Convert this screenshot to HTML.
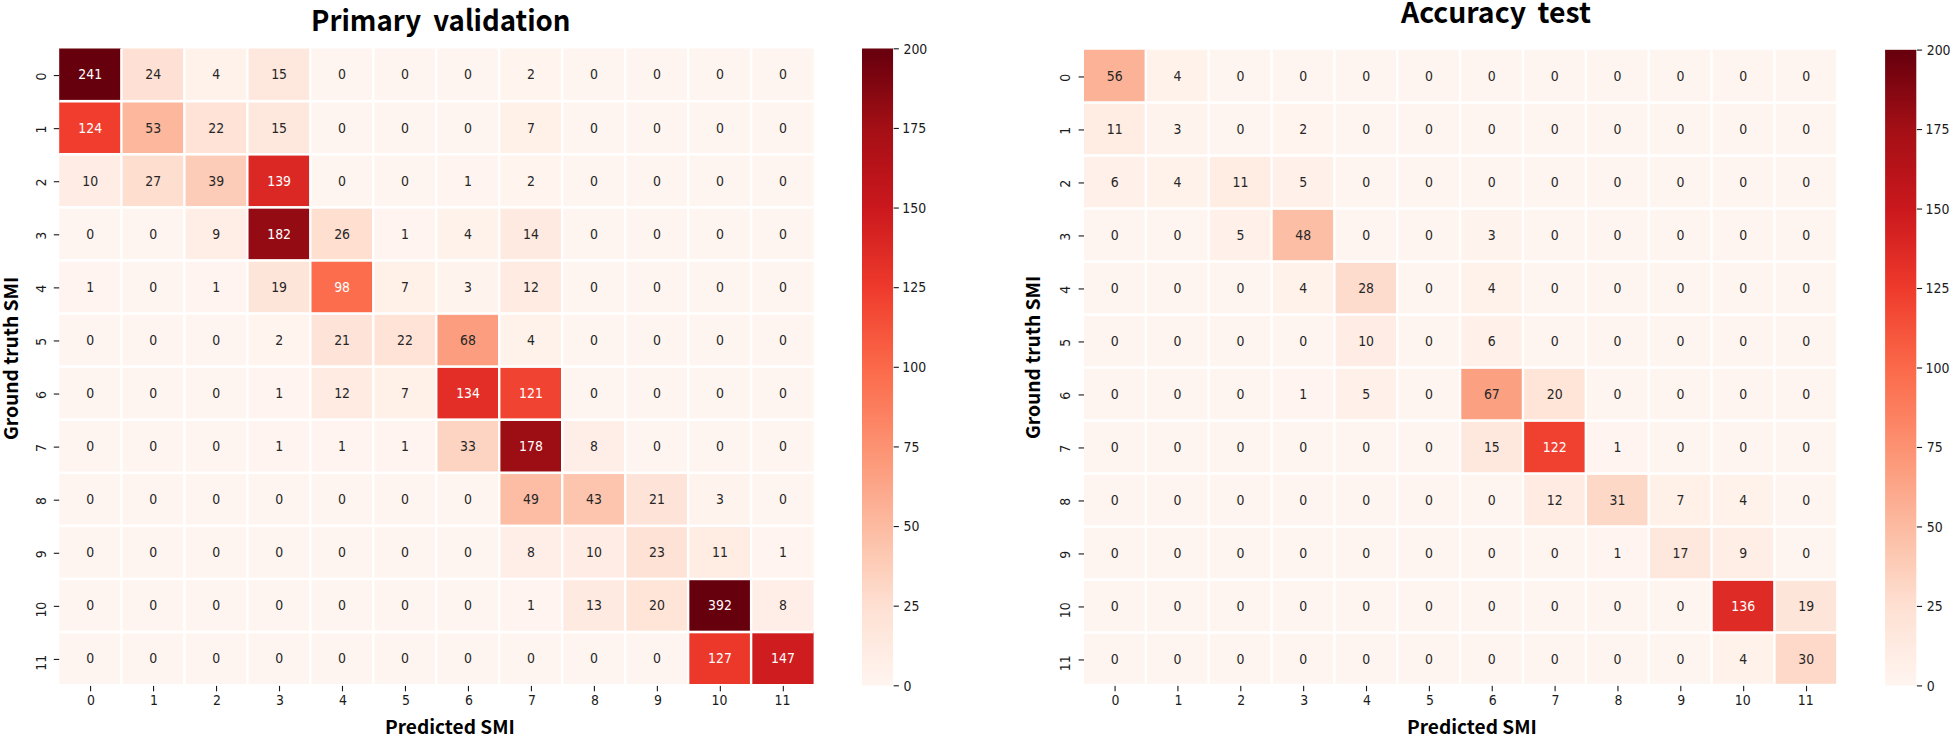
<!DOCTYPE html>
<html lang="en"><head><meta charset="utf-8"><title>Confusion matrices</title>
<style>
html,body{margin:0;padding:0;background:#fff;}
body{width:1953px;height:738px;position:relative;overflow:hidden;}
svg{position:absolute;left:0;top:0;display:block;}
.lbl{position:absolute;white-space:nowrap;color:#000;font-family:"Noto Sans CJK KR","Liberation Sans",sans-serif;font-weight:700;line-height:1;transform-origin:0 0;}

#t1{left:310.5px;top:4.8px;font-size:28.8px;transform:scaleX(0.959);word-spacing:6.2px;}
#t2{left:1401px;top:-2.6px;font-size:28.6px;transform:scaleX(0.993);word-spacing:5.2px;}
#x1{left:384.6px;top:717.1px;font-size:18.2px;transform:scaleX(1.05);}
#x2{left:1407px;top:717.1px;font-size:18.2px;transform:scaleX(1.05);}
#y1{left:0px;top:439.6px;font-size:19px;transform:rotate(-90deg) scaleX(1.01);}
#y2{left:1022.3px;top:439.3px;font-size:19px;transform:rotate(-90deg) scaleX(1.01);}

</style></head><body>
<svg width="1953" height="738" viewBox="0 0 1953 738" font-family="'DejaVu Sans', 'Liberation Sans', sans-serif">
<defs><linearGradient id="g1" x1="0" y1="0" x2="0" y2="1"><stop offset="0" stop-color="#67000d"/><stop offset="0.0156" stop-color="#6d010e"/><stop offset="0.0312" stop-color="#75030f"/><stop offset="0.0469" stop-color="#7c0510"/><stop offset="0.0625" stop-color="#840711"/><stop offset="0.0781" stop-color="#8c0912"/><stop offset="0.0938" stop-color="#940b13"/><stop offset="0.1094" stop-color="#9c0d14"/><stop offset="0.125" stop-color="#a30f15"/><stop offset="0.1406" stop-color="#a91016"/><stop offset="0.1562" stop-color="#ad1117"/><stop offset="0.1719" stop-color="#b21218"/><stop offset="0.1875" stop-color="#b71319"/><stop offset="0.2031" stop-color="#bc141a"/><stop offset="0.2188" stop-color="#c1161b"/><stop offset="0.2344" stop-color="#c5171c"/><stop offset="0.25" stop-color="#ca181d"/><stop offset="0.2656" stop-color="#cf1c1f"/><stop offset="0.2812" stop-color="#d32020"/><stop offset="0.2969" stop-color="#d82422"/><stop offset="0.3125" stop-color="#dc2924"/><stop offset="0.3281" stop-color="#e12d26"/><stop offset="0.3438" stop-color="#e53228"/><stop offset="0.3594" stop-color="#ea362a"/><stop offset="0.375" stop-color="#ee3a2c"/><stop offset="0.3906" stop-color="#f0402f"/><stop offset="0.4062" stop-color="#f24633"/><stop offset="0.4219" stop-color="#f34c37"/><stop offset="0.4375" stop-color="#f5523a"/><stop offset="0.4531" stop-color="#f6583e"/><stop offset="0.4688" stop-color="#f85d42"/><stop offset="0.4844" stop-color="#f96346"/><stop offset="0.5" stop-color="#fb694a"/><stop offset="0.5156" stop-color="#fb6e4e"/><stop offset="0.5312" stop-color="#fb7353"/><stop offset="0.5469" stop-color="#fb7858"/><stop offset="0.5625" stop-color="#fb7d5d"/><stop offset="0.5781" stop-color="#fc8262"/><stop offset="0.5938" stop-color="#fc8767"/><stop offset="0.6094" stop-color="#fc8d6d"/><stop offset="0.625" stop-color="#fc9272"/><stop offset="0.6406" stop-color="#fc9777"/><stop offset="0.6562" stop-color="#fc9c7d"/><stop offset="0.6719" stop-color="#fca183"/><stop offset="0.6875" stop-color="#fca689"/><stop offset="0.7031" stop-color="#fcab8f"/><stop offset="0.7188" stop-color="#fcb095"/><stop offset="0.7344" stop-color="#fcb69b"/><stop offset="0.75" stop-color="#fcbba1"/><stop offset="0.7656" stop-color="#fcbfa7"/><stop offset="0.7812" stop-color="#fcc4ad"/><stop offset="0.7969" stop-color="#fdc9b3"/><stop offset="0.8125" stop-color="#fdcdb9"/><stop offset="0.8281" stop-color="#fdd2bf"/><stop offset="0.8438" stop-color="#fdd7c6"/><stop offset="0.8594" stop-color="#fedbcc"/><stop offset="0.875" stop-color="#fee0d2"/><stop offset="0.8906" stop-color="#fee3d6"/><stop offset="0.9062" stop-color="#fee5d9"/><stop offset="0.9219" stop-color="#fee8dd"/><stop offset="0.9375" stop-color="#feeae1"/><stop offset="0.9531" stop-color="#ffede5"/><stop offset="0.9688" stop-color="#fff0e8"/><stop offset="0.9844" stop-color="#fff2ec"/><stop offset="1" stop-color="#fff5f0"/></linearGradient></defs>
<clipPath id="c1"><rect x="59.2" y="48.5" width="754.4" height="635.4"/></clipPath>
<g clip-path="url(#c1)">
<g class="cells">
<rect x="57.9" y="47.62" width="63.98" height="54.08" fill="#67000d"/>
<rect x="120.88" y="47.62" width="63.98" height="54.08" fill="#fee1d4"/>
<rect x="183.85" y="47.62" width="63.98" height="54.08" fill="#fff2eb"/>
<rect x="246.83" y="47.62" width="63.98" height="54.08" fill="#fee8de"/>
<rect x="309.8" y="47.62" width="63.98" height="54.08" fill="#fff5f0"/>
<rect x="372.77" y="47.62" width="63.98" height="54.08" fill="#fff5f0"/>
<rect x="435.75" y="47.62" width="63.98" height="54.08" fill="#fff5f0"/>
<rect x="498.72" y="47.62" width="63.98" height="54.08" fill="#fff4ee"/>
<rect x="561.7" y="47.62" width="63.98" height="54.08" fill="#fff5f0"/>
<rect x="624.67" y="47.62" width="63.98" height="54.08" fill="#fff5f0"/>
<rect x="687.65" y="47.62" width="63.98" height="54.08" fill="#fff5f0"/>
<rect x="750.62" y="47.62" width="63.98" height="54.08" fill="#fff5f0"/>
<rect x="57.9" y="100.7" width="63.98" height="54.08" fill="#f03d2d"/>
<rect x="120.88" y="100.7" width="63.98" height="54.08" fill="#fcb79c"/>
<rect x="183.85" y="100.7" width="63.98" height="54.08" fill="#fee3d6"/>
<rect x="246.83" y="100.7" width="63.98" height="54.08" fill="#fee8de"/>
<rect x="309.8" y="100.7" width="63.98" height="54.08" fill="#fff5f0"/>
<rect x="372.77" y="100.7" width="63.98" height="54.08" fill="#fff5f0"/>
<rect x="435.75" y="100.7" width="63.98" height="54.08" fill="#fff5f0"/>
<rect x="498.72" y="100.7" width="63.98" height="54.08" fill="#fff0e8"/>
<rect x="561.7" y="100.7" width="63.98" height="54.08" fill="#fff5f0"/>
<rect x="624.67" y="100.7" width="63.98" height="54.08" fill="#fff5f0"/>
<rect x="687.65" y="100.7" width="63.98" height="54.08" fill="#fff5f0"/>
<rect x="750.62" y="100.7" width="63.98" height="54.08" fill="#fff5f0"/>
<rect x="57.9" y="153.78" width="63.98" height="54.08" fill="#ffede5"/>
<rect x="120.88" y="153.78" width="63.98" height="54.08" fill="#fedecf"/>
<rect x="183.85" y="153.78" width="63.98" height="54.08" fill="#fdccb8"/>
<rect x="246.83" y="153.78" width="63.98" height="54.08" fill="#db2824"/>
<rect x="309.8" y="153.78" width="63.98" height="54.08" fill="#fff5f0"/>
<rect x="372.77" y="153.78" width="63.98" height="54.08" fill="#fff5f0"/>
<rect x="435.75" y="153.78" width="63.98" height="54.08" fill="#fff4ef"/>
<rect x="498.72" y="153.78" width="63.98" height="54.08" fill="#fff4ee"/>
<rect x="561.7" y="153.78" width="63.98" height="54.08" fill="#fff5f0"/>
<rect x="624.67" y="153.78" width="63.98" height="54.08" fill="#fff5f0"/>
<rect x="687.65" y="153.78" width="63.98" height="54.08" fill="#fff5f0"/>
<rect x="750.62" y="153.78" width="63.98" height="54.08" fill="#fff5f0"/>
<rect x="57.9" y="206.86" width="63.98" height="54.08" fill="#fff5f0"/>
<rect x="120.88" y="206.86" width="63.98" height="54.08" fill="#fff5f0"/>
<rect x="183.85" y="206.86" width="63.98" height="54.08" fill="#ffeee6"/>
<rect x="246.83" y="206.86" width="63.98" height="54.08" fill="#940b13"/>
<rect x="309.8" y="206.86" width="63.98" height="54.08" fill="#fedfd0"/>
<rect x="372.77" y="206.86" width="63.98" height="54.08" fill="#fff4ef"/>
<rect x="435.75" y="206.86" width="63.98" height="54.08" fill="#fff2eb"/>
<rect x="498.72" y="206.86" width="63.98" height="54.08" fill="#feeae0"/>
<rect x="561.7" y="206.86" width="63.98" height="54.08" fill="#fff5f0"/>
<rect x="624.67" y="206.86" width="63.98" height="54.08" fill="#fff5f0"/>
<rect x="687.65" y="206.86" width="63.98" height="54.08" fill="#fff5f0"/>
<rect x="750.62" y="206.86" width="63.98" height="54.08" fill="#fff5f0"/>
<rect x="57.9" y="259.94" width="63.98" height="54.08" fill="#fff4ef"/>
<rect x="120.88" y="259.94" width="63.98" height="54.08" fill="#fff5f0"/>
<rect x="183.85" y="259.94" width="63.98" height="54.08" fill="#fff4ef"/>
<rect x="246.83" y="259.94" width="63.98" height="54.08" fill="#fee5d9"/>
<rect x="309.8" y="259.94" width="63.98" height="54.08" fill="#fb6d4d"/>
<rect x="372.77" y="259.94" width="63.98" height="54.08" fill="#fff0e8"/>
<rect x="435.75" y="259.94" width="63.98" height="54.08" fill="#fff3ed"/>
<rect x="498.72" y="259.94" width="63.98" height="54.08" fill="#ffebe2"/>
<rect x="561.7" y="259.94" width="63.98" height="54.08" fill="#fff5f0"/>
<rect x="624.67" y="259.94" width="63.98" height="54.08" fill="#fff5f0"/>
<rect x="687.65" y="259.94" width="63.98" height="54.08" fill="#fff5f0"/>
<rect x="750.62" y="259.94" width="63.98" height="54.08" fill="#fff5f0"/>
<rect x="57.9" y="313.02" width="63.98" height="54.08" fill="#fff5f0"/>
<rect x="120.88" y="313.02" width="63.98" height="54.08" fill="#fff5f0"/>
<rect x="183.85" y="313.02" width="63.98" height="54.08" fill="#fff5f0"/>
<rect x="246.83" y="313.02" width="63.98" height="54.08" fill="#fff4ee"/>
<rect x="309.8" y="313.02" width="63.98" height="54.08" fill="#fee4d8"/>
<rect x="372.77" y="313.02" width="63.98" height="54.08" fill="#fee3d6"/>
<rect x="435.75" y="313.02" width="63.98" height="54.08" fill="#fc9d7f"/>
<rect x="498.72" y="313.02" width="63.98" height="54.08" fill="#fff2eb"/>
<rect x="561.7" y="313.02" width="63.98" height="54.08" fill="#fff5f0"/>
<rect x="624.67" y="313.02" width="63.98" height="54.08" fill="#fff5f0"/>
<rect x="687.65" y="313.02" width="63.98" height="54.08" fill="#fff5f0"/>
<rect x="750.62" y="313.02" width="63.98" height="54.08" fill="#fff5f0"/>
<rect x="57.9" y="366.1" width="63.98" height="54.08" fill="#fff5f0"/>
<rect x="120.88" y="366.1" width="63.98" height="54.08" fill="#fff5f0"/>
<rect x="183.85" y="366.1" width="63.98" height="54.08" fill="#fff5f0"/>
<rect x="246.83" y="366.1" width="63.98" height="54.08" fill="#fff4ef"/>
<rect x="309.8" y="366.1" width="63.98" height="54.08" fill="#ffebe2"/>
<rect x="372.77" y="366.1" width="63.98" height="54.08" fill="#fff0e8"/>
<rect x="435.75" y="366.1" width="63.98" height="54.08" fill="#e22e27"/>
<rect x="498.72" y="366.1" width="63.98" height="54.08" fill="#f14331"/>
<rect x="561.7" y="366.1" width="63.98" height="54.08" fill="#fff5f0"/>
<rect x="624.67" y="366.1" width="63.98" height="54.08" fill="#fff5f0"/>
<rect x="687.65" y="366.1" width="63.98" height="54.08" fill="#fff5f0"/>
<rect x="750.62" y="366.1" width="63.98" height="54.08" fill="#fff5f0"/>
<rect x="57.9" y="419.18" width="63.98" height="54.08" fill="#fff5f0"/>
<rect x="120.88" y="419.18" width="63.98" height="54.08" fill="#fff5f0"/>
<rect x="183.85" y="419.18" width="63.98" height="54.08" fill="#fff5f0"/>
<rect x="246.83" y="419.18" width="63.98" height="54.08" fill="#fff4ef"/>
<rect x="309.8" y="419.18" width="63.98" height="54.08" fill="#fff4ef"/>
<rect x="372.77" y="419.18" width="63.98" height="54.08" fill="#fff4ef"/>
<rect x="435.75" y="419.18" width="63.98" height="54.08" fill="#fdd4c2"/>
<rect x="498.72" y="419.18" width="63.98" height="54.08" fill="#9d0d14"/>
<rect x="561.7" y="419.18" width="63.98" height="54.08" fill="#ffeee7"/>
<rect x="624.67" y="419.18" width="63.98" height="54.08" fill="#fff5f0"/>
<rect x="687.65" y="419.18" width="63.98" height="54.08" fill="#fff5f0"/>
<rect x="750.62" y="419.18" width="63.98" height="54.08" fill="#fff5f0"/>
<rect x="57.9" y="472.26" width="63.98" height="54.08" fill="#fff5f0"/>
<rect x="120.88" y="472.26" width="63.98" height="54.08" fill="#fff5f0"/>
<rect x="183.85" y="472.26" width="63.98" height="54.08" fill="#fff5f0"/>
<rect x="246.83" y="472.26" width="63.98" height="54.08" fill="#fff5f0"/>
<rect x="309.8" y="472.26" width="63.98" height="54.08" fill="#fff5f0"/>
<rect x="372.77" y="472.26" width="63.98" height="54.08" fill="#fff5f0"/>
<rect x="435.75" y="472.26" width="63.98" height="54.08" fill="#fff5f0"/>
<rect x="498.72" y="472.26" width="63.98" height="54.08" fill="#fcbda4"/>
<rect x="561.7" y="472.26" width="63.98" height="54.08" fill="#fdc5ae"/>
<rect x="624.67" y="472.26" width="63.98" height="54.08" fill="#fee4d8"/>
<rect x="687.65" y="472.26" width="63.98" height="54.08" fill="#fff3ed"/>
<rect x="750.62" y="472.26" width="63.98" height="54.08" fill="#fff5f0"/>
<rect x="57.9" y="525.34" width="63.98" height="54.08" fill="#fff5f0"/>
<rect x="120.88" y="525.34" width="63.98" height="54.08" fill="#fff5f0"/>
<rect x="183.85" y="525.34" width="63.98" height="54.08" fill="#fff5f0"/>
<rect x="246.83" y="525.34" width="63.98" height="54.08" fill="#fff5f0"/>
<rect x="309.8" y="525.34" width="63.98" height="54.08" fill="#fff5f0"/>
<rect x="372.77" y="525.34" width="63.98" height="54.08" fill="#fff5f0"/>
<rect x="435.75" y="525.34" width="63.98" height="54.08" fill="#fff5f0"/>
<rect x="498.72" y="525.34" width="63.98" height="54.08" fill="#ffeee7"/>
<rect x="561.7" y="525.34" width="63.98" height="54.08" fill="#ffede5"/>
<rect x="624.67" y="525.34" width="63.98" height="54.08" fill="#fee2d5"/>
<rect x="687.65" y="525.34" width="63.98" height="54.08" fill="#ffece3"/>
<rect x="750.62" y="525.34" width="63.98" height="54.08" fill="#fff4ef"/>
<rect x="57.9" y="578.42" width="63.98" height="54.08" fill="#fff5f0"/>
<rect x="120.88" y="578.42" width="63.98" height="54.08" fill="#fff5f0"/>
<rect x="183.85" y="578.42" width="63.98" height="54.08" fill="#fff5f0"/>
<rect x="246.83" y="578.42" width="63.98" height="54.08" fill="#fff5f0"/>
<rect x="309.8" y="578.42" width="63.98" height="54.08" fill="#fff5f0"/>
<rect x="372.77" y="578.42" width="63.98" height="54.08" fill="#fff5f0"/>
<rect x="435.75" y="578.42" width="63.98" height="54.08" fill="#fff5f0"/>
<rect x="498.72" y="578.42" width="63.98" height="54.08" fill="#fff4ef"/>
<rect x="561.7" y="578.42" width="63.98" height="54.08" fill="#feeae1"/>
<rect x="624.67" y="578.42" width="63.98" height="54.08" fill="#fee5d8"/>
<rect x="687.65" y="578.42" width="63.98" height="54.08" fill="#67000d"/>
<rect x="750.62" y="578.42" width="63.98" height="54.08" fill="#ffeee7"/>
<rect x="57.9" y="631.5" width="63.98" height="54.08" fill="#fff5f0"/>
<rect x="120.88" y="631.5" width="63.98" height="54.08" fill="#fff5f0"/>
<rect x="183.85" y="631.5" width="63.98" height="54.08" fill="#fff5f0"/>
<rect x="246.83" y="631.5" width="63.98" height="54.08" fill="#fff5f0"/>
<rect x="309.8" y="631.5" width="63.98" height="54.08" fill="#fff5f0"/>
<rect x="372.77" y="631.5" width="63.98" height="54.08" fill="#fff5f0"/>
<rect x="435.75" y="631.5" width="63.98" height="54.08" fill="#fff5f0"/>
<rect x="498.72" y="631.5" width="63.98" height="54.08" fill="#fff5f0"/>
<rect x="561.7" y="631.5" width="63.98" height="54.08" fill="#fff5f0"/>
<rect x="624.67" y="631.5" width="63.98" height="54.08" fill="#fff5f0"/>
<rect x="687.65" y="631.5" width="63.98" height="54.08" fill="#ec382b"/>
<rect x="750.62" y="631.5" width="63.98" height="54.08" fill="#cf1c1f"/>
</g>
<g fill="#fff">
<rect x="120.17" y="45.12" width="2.4" height="642.96"/>
<rect x="183.15" y="45.12" width="2.4" height="642.96"/>
<rect x="246.13" y="45.12" width="2.4" height="642.96"/>
<rect x="309.1" y="45.12" width="2.4" height="642.96"/>
<rect x="372.07" y="45.12" width="2.4" height="642.96"/>
<rect x="435.05" y="45.12" width="2.4" height="642.96"/>
<rect x="498.02" y="45.12" width="2.4" height="642.96"/>
<rect x="561" y="45.12" width="2.4" height="642.96"/>
<rect x="623.97" y="45.12" width="2.4" height="642.96"/>
<rect x="686.95" y="45.12" width="2.4" height="642.96"/>
<rect x="749.92" y="45.12" width="2.4" height="642.96"/>
<rect x="55.4" y="99.9" width="761.7" height="2.6"/>
<rect x="55.4" y="152.98" width="761.7" height="2.6"/>
<rect x="55.4" y="206.06" width="761.7" height="2.6"/>
<rect x="55.4" y="259.14" width="761.7" height="2.6"/>
<rect x="55.4" y="312.22" width="761.7" height="2.6"/>
<rect x="55.4" y="365.3" width="761.7" height="2.6"/>
<rect x="55.4" y="418.38" width="761.7" height="2.6"/>
<rect x="55.4" y="471.46" width="761.7" height="2.6"/>
<rect x="55.4" y="524.54" width="761.7" height="2.6"/>
<rect x="55.4" y="577.62" width="761.7" height="2.6"/>
<rect x="55.4" y="630.7" width="761.7" height="2.6"/>
</g></g>
<g class="ann">
<text transform="translate(90.19 79.46) scale(0.88 1)" text-anchor="middle" fill="#ffffff" font-size="14.2">241</text>
<text transform="translate(153.16 79.46) scale(0.88 1)" text-anchor="middle" fill="#262626" font-size="14.2">24</text>
<text transform="translate(216.14 79.46) scale(0.88 1)" text-anchor="middle" fill="#262626" font-size="14.2">4</text>
<text transform="translate(279.11 79.46) scale(0.88 1)" text-anchor="middle" fill="#262626" font-size="14.2">15</text>
<text transform="translate(342.09 79.46) scale(0.88 1)" text-anchor="middle" fill="#262626" font-size="14.2">0</text>
<text transform="translate(405.06 79.46) scale(0.88 1)" text-anchor="middle" fill="#262626" font-size="14.2">0</text>
<text transform="translate(468.04 79.46) scale(0.88 1)" text-anchor="middle" fill="#262626" font-size="14.2">0</text>
<text transform="translate(531.01 79.46) scale(0.88 1)" text-anchor="middle" fill="#262626" font-size="14.2">2</text>
<text transform="translate(593.99 79.46) scale(0.88 1)" text-anchor="middle" fill="#262626" font-size="14.2">0</text>
<text transform="translate(656.96 79.46) scale(0.88 1)" text-anchor="middle" fill="#262626" font-size="14.2">0</text>
<text transform="translate(719.94 79.46) scale(0.88 1)" text-anchor="middle" fill="#262626" font-size="14.2">0</text>
<text transform="translate(782.91 79.46) scale(0.88 1)" text-anchor="middle" fill="#262626" font-size="14.2">0</text>
<text transform="translate(90.19 132.54) scale(0.88 1)" text-anchor="middle" fill="#ffffff" font-size="14.2">124</text>
<text transform="translate(153.16 132.54) scale(0.88 1)" text-anchor="middle" fill="#262626" font-size="14.2">53</text>
<text transform="translate(216.14 132.54) scale(0.88 1)" text-anchor="middle" fill="#262626" font-size="14.2">22</text>
<text transform="translate(279.11 132.54) scale(0.88 1)" text-anchor="middle" fill="#262626" font-size="14.2">15</text>
<text transform="translate(342.09 132.54) scale(0.88 1)" text-anchor="middle" fill="#262626" font-size="14.2">0</text>
<text transform="translate(405.06 132.54) scale(0.88 1)" text-anchor="middle" fill="#262626" font-size="14.2">0</text>
<text transform="translate(468.04 132.54) scale(0.88 1)" text-anchor="middle" fill="#262626" font-size="14.2">0</text>
<text transform="translate(531.01 132.54) scale(0.88 1)" text-anchor="middle" fill="#262626" font-size="14.2">7</text>
<text transform="translate(593.99 132.54) scale(0.88 1)" text-anchor="middle" fill="#262626" font-size="14.2">0</text>
<text transform="translate(656.96 132.54) scale(0.88 1)" text-anchor="middle" fill="#262626" font-size="14.2">0</text>
<text transform="translate(719.94 132.54) scale(0.88 1)" text-anchor="middle" fill="#262626" font-size="14.2">0</text>
<text transform="translate(782.91 132.54) scale(0.88 1)" text-anchor="middle" fill="#262626" font-size="14.2">0</text>
<text transform="translate(90.19 185.62) scale(0.88 1)" text-anchor="middle" fill="#262626" font-size="14.2">10</text>
<text transform="translate(153.16 185.62) scale(0.88 1)" text-anchor="middle" fill="#262626" font-size="14.2">27</text>
<text transform="translate(216.14 185.62) scale(0.88 1)" text-anchor="middle" fill="#262626" font-size="14.2">39</text>
<text transform="translate(279.11 185.62) scale(0.88 1)" text-anchor="middle" fill="#ffffff" font-size="14.2">139</text>
<text transform="translate(342.09 185.62) scale(0.88 1)" text-anchor="middle" fill="#262626" font-size="14.2">0</text>
<text transform="translate(405.06 185.62) scale(0.88 1)" text-anchor="middle" fill="#262626" font-size="14.2">0</text>
<text transform="translate(468.04 185.62) scale(0.88 1)" text-anchor="middle" fill="#262626" font-size="14.2">1</text>
<text transform="translate(531.01 185.62) scale(0.88 1)" text-anchor="middle" fill="#262626" font-size="14.2">2</text>
<text transform="translate(593.99 185.62) scale(0.88 1)" text-anchor="middle" fill="#262626" font-size="14.2">0</text>
<text transform="translate(656.96 185.62) scale(0.88 1)" text-anchor="middle" fill="#262626" font-size="14.2">0</text>
<text transform="translate(719.94 185.62) scale(0.88 1)" text-anchor="middle" fill="#262626" font-size="14.2">0</text>
<text transform="translate(782.91 185.62) scale(0.88 1)" text-anchor="middle" fill="#262626" font-size="14.2">0</text>
<text transform="translate(90.19 238.7) scale(0.88 1)" text-anchor="middle" fill="#262626" font-size="14.2">0</text>
<text transform="translate(153.16 238.7) scale(0.88 1)" text-anchor="middle" fill="#262626" font-size="14.2">0</text>
<text transform="translate(216.14 238.7) scale(0.88 1)" text-anchor="middle" fill="#262626" font-size="14.2">9</text>
<text transform="translate(279.11 238.7) scale(0.88 1)" text-anchor="middle" fill="#ffffff" font-size="14.2">182</text>
<text transform="translate(342.09 238.7) scale(0.88 1)" text-anchor="middle" fill="#262626" font-size="14.2">26</text>
<text transform="translate(405.06 238.7) scale(0.88 1)" text-anchor="middle" fill="#262626" font-size="14.2">1</text>
<text transform="translate(468.04 238.7) scale(0.88 1)" text-anchor="middle" fill="#262626" font-size="14.2">4</text>
<text transform="translate(531.01 238.7) scale(0.88 1)" text-anchor="middle" fill="#262626" font-size="14.2">14</text>
<text transform="translate(593.99 238.7) scale(0.88 1)" text-anchor="middle" fill="#262626" font-size="14.2">0</text>
<text transform="translate(656.96 238.7) scale(0.88 1)" text-anchor="middle" fill="#262626" font-size="14.2">0</text>
<text transform="translate(719.94 238.7) scale(0.88 1)" text-anchor="middle" fill="#262626" font-size="14.2">0</text>
<text transform="translate(782.91 238.7) scale(0.88 1)" text-anchor="middle" fill="#262626" font-size="14.2">0</text>
<text transform="translate(90.19 291.78) scale(0.88 1)" text-anchor="middle" fill="#262626" font-size="14.2">1</text>
<text transform="translate(153.16 291.78) scale(0.88 1)" text-anchor="middle" fill="#262626" font-size="14.2">0</text>
<text transform="translate(216.14 291.78) scale(0.88 1)" text-anchor="middle" fill="#262626" font-size="14.2">1</text>
<text transform="translate(279.11 291.78) scale(0.88 1)" text-anchor="middle" fill="#262626" font-size="14.2">19</text>
<text transform="translate(342.09 291.78) scale(0.88 1)" text-anchor="middle" fill="#ffffff" font-size="14.2">98</text>
<text transform="translate(405.06 291.78) scale(0.88 1)" text-anchor="middle" fill="#262626" font-size="14.2">7</text>
<text transform="translate(468.04 291.78) scale(0.88 1)" text-anchor="middle" fill="#262626" font-size="14.2">3</text>
<text transform="translate(531.01 291.78) scale(0.88 1)" text-anchor="middle" fill="#262626" font-size="14.2">12</text>
<text transform="translate(593.99 291.78) scale(0.88 1)" text-anchor="middle" fill="#262626" font-size="14.2">0</text>
<text transform="translate(656.96 291.78) scale(0.88 1)" text-anchor="middle" fill="#262626" font-size="14.2">0</text>
<text transform="translate(719.94 291.78) scale(0.88 1)" text-anchor="middle" fill="#262626" font-size="14.2">0</text>
<text transform="translate(782.91 291.78) scale(0.88 1)" text-anchor="middle" fill="#262626" font-size="14.2">0</text>
<text transform="translate(90.19 344.86) scale(0.88 1)" text-anchor="middle" fill="#262626" font-size="14.2">0</text>
<text transform="translate(153.16 344.86) scale(0.88 1)" text-anchor="middle" fill="#262626" font-size="14.2">0</text>
<text transform="translate(216.14 344.86) scale(0.88 1)" text-anchor="middle" fill="#262626" font-size="14.2">0</text>
<text transform="translate(279.11 344.86) scale(0.88 1)" text-anchor="middle" fill="#262626" font-size="14.2">2</text>
<text transform="translate(342.09 344.86) scale(0.88 1)" text-anchor="middle" fill="#262626" font-size="14.2">21</text>
<text transform="translate(405.06 344.86) scale(0.88 1)" text-anchor="middle" fill="#262626" font-size="14.2">22</text>
<text transform="translate(468.04 344.86) scale(0.88 1)" text-anchor="middle" fill="#262626" font-size="14.2">68</text>
<text transform="translate(531.01 344.86) scale(0.88 1)" text-anchor="middle" fill="#262626" font-size="14.2">4</text>
<text transform="translate(593.99 344.86) scale(0.88 1)" text-anchor="middle" fill="#262626" font-size="14.2">0</text>
<text transform="translate(656.96 344.86) scale(0.88 1)" text-anchor="middle" fill="#262626" font-size="14.2">0</text>
<text transform="translate(719.94 344.86) scale(0.88 1)" text-anchor="middle" fill="#262626" font-size="14.2">0</text>
<text transform="translate(782.91 344.86) scale(0.88 1)" text-anchor="middle" fill="#262626" font-size="14.2">0</text>
<text transform="translate(90.19 397.94) scale(0.88 1)" text-anchor="middle" fill="#262626" font-size="14.2">0</text>
<text transform="translate(153.16 397.94) scale(0.88 1)" text-anchor="middle" fill="#262626" font-size="14.2">0</text>
<text transform="translate(216.14 397.94) scale(0.88 1)" text-anchor="middle" fill="#262626" font-size="14.2">0</text>
<text transform="translate(279.11 397.94) scale(0.88 1)" text-anchor="middle" fill="#262626" font-size="14.2">1</text>
<text transform="translate(342.09 397.94) scale(0.88 1)" text-anchor="middle" fill="#262626" font-size="14.2">12</text>
<text transform="translate(405.06 397.94) scale(0.88 1)" text-anchor="middle" fill="#262626" font-size="14.2">7</text>
<text transform="translate(468.04 397.94) scale(0.88 1)" text-anchor="middle" fill="#ffffff" font-size="14.2">134</text>
<text transform="translate(531.01 397.94) scale(0.88 1)" text-anchor="middle" fill="#ffffff" font-size="14.2">121</text>
<text transform="translate(593.99 397.94) scale(0.88 1)" text-anchor="middle" fill="#262626" font-size="14.2">0</text>
<text transform="translate(656.96 397.94) scale(0.88 1)" text-anchor="middle" fill="#262626" font-size="14.2">0</text>
<text transform="translate(719.94 397.94) scale(0.88 1)" text-anchor="middle" fill="#262626" font-size="14.2">0</text>
<text transform="translate(782.91 397.94) scale(0.88 1)" text-anchor="middle" fill="#262626" font-size="14.2">0</text>
<text transform="translate(90.19 451.02) scale(0.88 1)" text-anchor="middle" fill="#262626" font-size="14.2">0</text>
<text transform="translate(153.16 451.02) scale(0.88 1)" text-anchor="middle" fill="#262626" font-size="14.2">0</text>
<text transform="translate(216.14 451.02) scale(0.88 1)" text-anchor="middle" fill="#262626" font-size="14.2">0</text>
<text transform="translate(279.11 451.02) scale(0.88 1)" text-anchor="middle" fill="#262626" font-size="14.2">1</text>
<text transform="translate(342.09 451.02) scale(0.88 1)" text-anchor="middle" fill="#262626" font-size="14.2">1</text>
<text transform="translate(405.06 451.02) scale(0.88 1)" text-anchor="middle" fill="#262626" font-size="14.2">1</text>
<text transform="translate(468.04 451.02) scale(0.88 1)" text-anchor="middle" fill="#262626" font-size="14.2">33</text>
<text transform="translate(531.01 451.02) scale(0.88 1)" text-anchor="middle" fill="#ffffff" font-size="14.2">178</text>
<text transform="translate(593.99 451.02) scale(0.88 1)" text-anchor="middle" fill="#262626" font-size="14.2">8</text>
<text transform="translate(656.96 451.02) scale(0.88 1)" text-anchor="middle" fill="#262626" font-size="14.2">0</text>
<text transform="translate(719.94 451.02) scale(0.88 1)" text-anchor="middle" fill="#262626" font-size="14.2">0</text>
<text transform="translate(782.91 451.02) scale(0.88 1)" text-anchor="middle" fill="#262626" font-size="14.2">0</text>
<text transform="translate(90.19 504.1) scale(0.88 1)" text-anchor="middle" fill="#262626" font-size="14.2">0</text>
<text transform="translate(153.16 504.1) scale(0.88 1)" text-anchor="middle" fill="#262626" font-size="14.2">0</text>
<text transform="translate(216.14 504.1) scale(0.88 1)" text-anchor="middle" fill="#262626" font-size="14.2">0</text>
<text transform="translate(279.11 504.1) scale(0.88 1)" text-anchor="middle" fill="#262626" font-size="14.2">0</text>
<text transform="translate(342.09 504.1) scale(0.88 1)" text-anchor="middle" fill="#262626" font-size="14.2">0</text>
<text transform="translate(405.06 504.1) scale(0.88 1)" text-anchor="middle" fill="#262626" font-size="14.2">0</text>
<text transform="translate(468.04 504.1) scale(0.88 1)" text-anchor="middle" fill="#262626" font-size="14.2">0</text>
<text transform="translate(531.01 504.1) scale(0.88 1)" text-anchor="middle" fill="#262626" font-size="14.2">49</text>
<text transform="translate(593.99 504.1) scale(0.88 1)" text-anchor="middle" fill="#262626" font-size="14.2">43</text>
<text transform="translate(656.96 504.1) scale(0.88 1)" text-anchor="middle" fill="#262626" font-size="14.2">21</text>
<text transform="translate(719.94 504.1) scale(0.88 1)" text-anchor="middle" fill="#262626" font-size="14.2">3</text>
<text transform="translate(782.91 504.1) scale(0.88 1)" text-anchor="middle" fill="#262626" font-size="14.2">0</text>
<text transform="translate(90.19 557.18) scale(0.88 1)" text-anchor="middle" fill="#262626" font-size="14.2">0</text>
<text transform="translate(153.16 557.18) scale(0.88 1)" text-anchor="middle" fill="#262626" font-size="14.2">0</text>
<text transform="translate(216.14 557.18) scale(0.88 1)" text-anchor="middle" fill="#262626" font-size="14.2">0</text>
<text transform="translate(279.11 557.18) scale(0.88 1)" text-anchor="middle" fill="#262626" font-size="14.2">0</text>
<text transform="translate(342.09 557.18) scale(0.88 1)" text-anchor="middle" fill="#262626" font-size="14.2">0</text>
<text transform="translate(405.06 557.18) scale(0.88 1)" text-anchor="middle" fill="#262626" font-size="14.2">0</text>
<text transform="translate(468.04 557.18) scale(0.88 1)" text-anchor="middle" fill="#262626" font-size="14.2">0</text>
<text transform="translate(531.01 557.18) scale(0.88 1)" text-anchor="middle" fill="#262626" font-size="14.2">8</text>
<text transform="translate(593.99 557.18) scale(0.88 1)" text-anchor="middle" fill="#262626" font-size="14.2">10</text>
<text transform="translate(656.96 557.18) scale(0.88 1)" text-anchor="middle" fill="#262626" font-size="14.2">23</text>
<text transform="translate(719.94 557.18) scale(0.88 1)" text-anchor="middle" fill="#262626" font-size="14.2">11</text>
<text transform="translate(782.91 557.18) scale(0.88 1)" text-anchor="middle" fill="#262626" font-size="14.2">1</text>
<text transform="translate(90.19 610.26) scale(0.88 1)" text-anchor="middle" fill="#262626" font-size="14.2">0</text>
<text transform="translate(153.16 610.26) scale(0.88 1)" text-anchor="middle" fill="#262626" font-size="14.2">0</text>
<text transform="translate(216.14 610.26) scale(0.88 1)" text-anchor="middle" fill="#262626" font-size="14.2">0</text>
<text transform="translate(279.11 610.26) scale(0.88 1)" text-anchor="middle" fill="#262626" font-size="14.2">0</text>
<text transform="translate(342.09 610.26) scale(0.88 1)" text-anchor="middle" fill="#262626" font-size="14.2">0</text>
<text transform="translate(405.06 610.26) scale(0.88 1)" text-anchor="middle" fill="#262626" font-size="14.2">0</text>
<text transform="translate(468.04 610.26) scale(0.88 1)" text-anchor="middle" fill="#262626" font-size="14.2">0</text>
<text transform="translate(531.01 610.26) scale(0.88 1)" text-anchor="middle" fill="#262626" font-size="14.2">1</text>
<text transform="translate(593.99 610.26) scale(0.88 1)" text-anchor="middle" fill="#262626" font-size="14.2">13</text>
<text transform="translate(656.96 610.26) scale(0.88 1)" text-anchor="middle" fill="#262626" font-size="14.2">20</text>
<text transform="translate(719.94 610.26) scale(0.88 1)" text-anchor="middle" fill="#ffffff" font-size="14.2">392</text>
<text transform="translate(782.91 610.26) scale(0.88 1)" text-anchor="middle" fill="#262626" font-size="14.2">8</text>
<text transform="translate(90.19 663.34) scale(0.88 1)" text-anchor="middle" fill="#262626" font-size="14.2">0</text>
<text transform="translate(153.16 663.34) scale(0.88 1)" text-anchor="middle" fill="#262626" font-size="14.2">0</text>
<text transform="translate(216.14 663.34) scale(0.88 1)" text-anchor="middle" fill="#262626" font-size="14.2">0</text>
<text transform="translate(279.11 663.34) scale(0.88 1)" text-anchor="middle" fill="#262626" font-size="14.2">0</text>
<text transform="translate(342.09 663.34) scale(0.88 1)" text-anchor="middle" fill="#262626" font-size="14.2">0</text>
<text transform="translate(405.06 663.34) scale(0.88 1)" text-anchor="middle" fill="#262626" font-size="14.2">0</text>
<text transform="translate(468.04 663.34) scale(0.88 1)" text-anchor="middle" fill="#262626" font-size="14.2">0</text>
<text transform="translate(531.01 663.34) scale(0.88 1)" text-anchor="middle" fill="#262626" font-size="14.2">0</text>
<text transform="translate(593.99 663.34) scale(0.88 1)" text-anchor="middle" fill="#262626" font-size="14.2">0</text>
<text transform="translate(656.96 663.34) scale(0.88 1)" text-anchor="middle" fill="#262626" font-size="14.2">0</text>
<text transform="translate(719.94 663.34) scale(0.88 1)" text-anchor="middle" fill="#ffffff" font-size="14.2">127</text>
<text transform="translate(782.91 663.34) scale(0.88 1)" text-anchor="middle" fill="#ffffff" font-size="14.2">147</text>
</g>
<g class="ticks" fill="#1a1a1a">
<rect x="90.04" y="685.9" width="1.1" height="5.4"/>
<text transform="translate(91.09 704.6) scale(0.88 1)" text-anchor="middle" fill="#1a1a1a" font-size="14.2">0</text>
<rect x="153.01" y="685.9" width="1.1" height="5.4"/>
<text transform="translate(154.06 704.6) scale(0.88 1)" text-anchor="middle" fill="#1a1a1a" font-size="14.2">1</text>
<rect x="215.99" y="685.9" width="1.1" height="5.4"/>
<text transform="translate(217.04 704.6) scale(0.88 1)" text-anchor="middle" fill="#1a1a1a" font-size="14.2">2</text>
<rect x="278.96" y="685.9" width="1.1" height="5.4"/>
<text transform="translate(280.01 704.6) scale(0.88 1)" text-anchor="middle" fill="#1a1a1a" font-size="14.2">3</text>
<rect x="341.94" y="685.9" width="1.1" height="5.4"/>
<text transform="translate(342.99 704.6) scale(0.88 1)" text-anchor="middle" fill="#1a1a1a" font-size="14.2">4</text>
<rect x="404.91" y="685.9" width="1.1" height="5.4"/>
<text transform="translate(405.96 704.6) scale(0.88 1)" text-anchor="middle" fill="#1a1a1a" font-size="14.2">5</text>
<rect x="467.89" y="685.9" width="1.1" height="5.4"/>
<text transform="translate(468.94 704.6) scale(0.88 1)" text-anchor="middle" fill="#1a1a1a" font-size="14.2">6</text>
<rect x="530.86" y="685.9" width="1.1" height="5.4"/>
<text transform="translate(531.91 704.6) scale(0.88 1)" text-anchor="middle" fill="#1a1a1a" font-size="14.2">7</text>
<rect x="593.84" y="685.9" width="1.1" height="5.4"/>
<text transform="translate(594.89 704.6) scale(0.88 1)" text-anchor="middle" fill="#1a1a1a" font-size="14.2">8</text>
<rect x="656.81" y="685.9" width="1.1" height="5.4"/>
<text transform="translate(657.86 704.6) scale(0.88 1)" text-anchor="middle" fill="#1a1a1a" font-size="14.2">9</text>
<rect x="719.79" y="685.9" width="1.1" height="5.4"/>
<text transform="translate(719.44 704.6) scale(0.88 1)" text-anchor="middle" fill="#1a1a1a" font-size="14.2">10</text>
<rect x="782.76" y="685.9" width="1.1" height="5.4"/>
<text transform="translate(782.41 704.6) scale(0.88 1)" text-anchor="middle" fill="#1a1a1a" font-size="14.2">11</text>
<rect x="53.8" y="75.01" width="5.4" height="1.1"/>
<text transform="translate(46.4 76.46) rotate(-90) scale(0.88 1)" text-anchor="middle" fill="#1a1a1a" font-size="14.2">0</text>
<rect x="53.8" y="128.09" width="5.4" height="1.1"/>
<text transform="translate(46.4 129.54) rotate(-90) scale(0.88 1)" text-anchor="middle" fill="#1a1a1a" font-size="14.2">1</text>
<rect x="53.8" y="181.17" width="5.4" height="1.1"/>
<text transform="translate(46.4 182.62) rotate(-90) scale(0.88 1)" text-anchor="middle" fill="#1a1a1a" font-size="14.2">2</text>
<rect x="53.8" y="234.25" width="5.4" height="1.1"/>
<text transform="translate(46.4 235.7) rotate(-90) scale(0.88 1)" text-anchor="middle" fill="#1a1a1a" font-size="14.2">3</text>
<rect x="53.8" y="287.33" width="5.4" height="1.1"/>
<text transform="translate(46.4 288.78) rotate(-90) scale(0.88 1)" text-anchor="middle" fill="#1a1a1a" font-size="14.2">4</text>
<rect x="53.8" y="340.41" width="5.4" height="1.1"/>
<text transform="translate(46.4 341.86) rotate(-90) scale(0.88 1)" text-anchor="middle" fill="#1a1a1a" font-size="14.2">5</text>
<rect x="53.8" y="393.49" width="5.4" height="1.1"/>
<text transform="translate(46.4 394.94) rotate(-90) scale(0.88 1)" text-anchor="middle" fill="#1a1a1a" font-size="14.2">6</text>
<rect x="53.8" y="446.57" width="5.4" height="1.1"/>
<text transform="translate(46.4 448.02) rotate(-90) scale(0.88 1)" text-anchor="middle" fill="#1a1a1a" font-size="14.2">7</text>
<rect x="53.8" y="499.65" width="5.4" height="1.1"/>
<text transform="translate(46.4 501.1) rotate(-90) scale(0.88 1)" text-anchor="middle" fill="#1a1a1a" font-size="14.2">8</text>
<rect x="53.8" y="552.73" width="5.4" height="1.1"/>
<text transform="translate(46.4 554.18) rotate(-90) scale(0.88 1)" text-anchor="middle" fill="#1a1a1a" font-size="14.2">9</text>
<rect x="53.8" y="605.81" width="5.4" height="1.1"/>
<text transform="translate(46.4 609.66) rotate(-90) scale(0.88 1)" text-anchor="middle" fill="#1a1a1a" font-size="14.2">10</text>
<rect x="53.8" y="658.89" width="5.4" height="1.1"/>
<text transform="translate(46.4 662.74) rotate(-90) scale(0.88 1)" text-anchor="middle" fill="#1a1a1a" font-size="14.2">11</text>
</g>
<rect x="862" y="48.5" width="31.05" height="637" fill="url(#g1)"/>
<g class="cbt" fill="#1a1a1a">
<rect x="893.65" y="685.25" width="5.2" height="1.1"/>
<text transform="translate(903.45 690.5) scale(0.88 1)" text-anchor="start" fill="#1a1a1a" font-size="14.2">0</text>
<rect x="893.65" y="605.62" width="5.2" height="1.1"/>
<text transform="translate(903.45 610.88) scale(0.88 1)" text-anchor="start" fill="#1a1a1a" font-size="14.2">25</text>
<rect x="893.65" y="526" width="5.2" height="1.1"/>
<text transform="translate(903.45 531.25) scale(0.88 1)" text-anchor="start" fill="#1a1a1a" font-size="14.2">50</text>
<rect x="893.65" y="446.38" width="5.2" height="1.1"/>
<text transform="translate(903.45 451.62) scale(0.88 1)" text-anchor="start" fill="#1a1a1a" font-size="14.2">75</text>
<rect x="893.65" y="366.75" width="5.2" height="1.1"/>
<text transform="translate(902.25 372) scale(0.88 1)" text-anchor="start" fill="#1a1a1a" font-size="14.2">100</text>
<rect x="893.65" y="287.12" width="5.2" height="1.1"/>
<text transform="translate(902.25 292.38) scale(0.88 1)" text-anchor="start" fill="#1a1a1a" font-size="14.2">125</text>
<rect x="893.65" y="207.5" width="5.2" height="1.1"/>
<text transform="translate(902.25 212.75) scale(0.88 1)" text-anchor="start" fill="#1a1a1a" font-size="14.2">150</text>
<rect x="893.65" y="127.88" width="5.2" height="1.1"/>
<text transform="translate(902.25 133.12) scale(0.88 1)" text-anchor="start" fill="#1a1a1a" font-size="14.2">175</text>
<rect x="893.65" y="48.25" width="5.2" height="1.1"/>
<text transform="translate(903.45 53.5) scale(0.88 1)" text-anchor="start" fill="#1a1a1a" font-size="14.2">200</text>
</g>
<clipPath id="c2"><rect x="1084" y="49.7" width="752.15" height="634.15"/></clipPath>
<g clip-path="url(#c2)">
<g class="cells">
<rect x="1082.44" y="49.05" width="63.86" height="54" fill="#fcb296"/>
<rect x="1145.3" y="49.05" width="63.86" height="54" fill="#fff2eb"/>
<rect x="1208.16" y="49.05" width="63.86" height="54" fill="#fff5f0"/>
<rect x="1271.02" y="49.05" width="63.86" height="54" fill="#fff5f0"/>
<rect x="1333.88" y="49.05" width="63.86" height="54" fill="#fff5f0"/>
<rect x="1396.74" y="49.05" width="63.86" height="54" fill="#fff5f0"/>
<rect x="1459.6" y="49.05" width="63.86" height="54" fill="#fff5f0"/>
<rect x="1522.46" y="49.05" width="63.86" height="54" fill="#fff5f0"/>
<rect x="1585.32" y="49.05" width="63.86" height="54" fill="#fff5f0"/>
<rect x="1648.18" y="49.05" width="63.86" height="54" fill="#fff5f0"/>
<rect x="1711.04" y="49.05" width="63.86" height="54" fill="#fff5f0"/>
<rect x="1773.9" y="49.05" width="63.86" height="54" fill="#fff5f0"/>
<rect x="1082.44" y="102.05" width="63.86" height="54" fill="#ffece3"/>
<rect x="1145.3" y="102.05" width="63.86" height="54" fill="#fff3ed"/>
<rect x="1208.16" y="102.05" width="63.86" height="54" fill="#fff5f0"/>
<rect x="1271.02" y="102.05" width="63.86" height="54" fill="#fff4ee"/>
<rect x="1333.88" y="102.05" width="63.86" height="54" fill="#fff5f0"/>
<rect x="1396.74" y="102.05" width="63.86" height="54" fill="#fff5f0"/>
<rect x="1459.6" y="102.05" width="63.86" height="54" fill="#fff5f0"/>
<rect x="1522.46" y="102.05" width="63.86" height="54" fill="#fff5f0"/>
<rect x="1585.32" y="102.05" width="63.86" height="54" fill="#fff5f0"/>
<rect x="1648.18" y="102.05" width="63.86" height="54" fill="#fff5f0"/>
<rect x="1711.04" y="102.05" width="63.86" height="54" fill="#fff5f0"/>
<rect x="1773.9" y="102.05" width="63.86" height="54" fill="#fff5f0"/>
<rect x="1082.44" y="155.05" width="63.86" height="54" fill="#fff0e9"/>
<rect x="1145.3" y="155.05" width="63.86" height="54" fill="#fff2eb"/>
<rect x="1208.16" y="155.05" width="63.86" height="54" fill="#ffece3"/>
<rect x="1271.02" y="155.05" width="63.86" height="54" fill="#fff1ea"/>
<rect x="1333.88" y="155.05" width="63.86" height="54" fill="#fff5f0"/>
<rect x="1396.74" y="155.05" width="63.86" height="54" fill="#fff5f0"/>
<rect x="1459.6" y="155.05" width="63.86" height="54" fill="#fff5f0"/>
<rect x="1522.46" y="155.05" width="63.86" height="54" fill="#fff5f0"/>
<rect x="1585.32" y="155.05" width="63.86" height="54" fill="#fff5f0"/>
<rect x="1648.18" y="155.05" width="63.86" height="54" fill="#fff5f0"/>
<rect x="1711.04" y="155.05" width="63.86" height="54" fill="#fff5f0"/>
<rect x="1773.9" y="155.05" width="63.86" height="54" fill="#fff5f0"/>
<rect x="1082.44" y="208.05" width="63.86" height="54" fill="#fff5f0"/>
<rect x="1145.3" y="208.05" width="63.86" height="54" fill="#fff5f0"/>
<rect x="1208.16" y="208.05" width="63.86" height="54" fill="#fff1ea"/>
<rect x="1271.02" y="208.05" width="63.86" height="54" fill="#fcbea5"/>
<rect x="1333.88" y="208.05" width="63.86" height="54" fill="#fff5f0"/>
<rect x="1396.74" y="208.05" width="63.86" height="54" fill="#fff5f0"/>
<rect x="1459.6" y="208.05" width="63.86" height="54" fill="#fff3ed"/>
<rect x="1522.46" y="208.05" width="63.86" height="54" fill="#fff5f0"/>
<rect x="1585.32" y="208.05" width="63.86" height="54" fill="#fff5f0"/>
<rect x="1648.18" y="208.05" width="63.86" height="54" fill="#fff5f0"/>
<rect x="1711.04" y="208.05" width="63.86" height="54" fill="#fff5f0"/>
<rect x="1773.9" y="208.05" width="63.86" height="54" fill="#fff5f0"/>
<rect x="1082.44" y="261.05" width="63.86" height="54" fill="#fff5f0"/>
<rect x="1145.3" y="261.05" width="63.86" height="54" fill="#fff5f0"/>
<rect x="1208.16" y="261.05" width="63.86" height="54" fill="#fff5f0"/>
<rect x="1271.02" y="261.05" width="63.86" height="54" fill="#fff2eb"/>
<rect x="1333.88" y="261.05" width="63.86" height="54" fill="#fedccd"/>
<rect x="1396.74" y="261.05" width="63.86" height="54" fill="#fff5f0"/>
<rect x="1459.6" y="261.05" width="63.86" height="54" fill="#fff2eb"/>
<rect x="1522.46" y="261.05" width="63.86" height="54" fill="#fff5f0"/>
<rect x="1585.32" y="261.05" width="63.86" height="54" fill="#fff5f0"/>
<rect x="1648.18" y="261.05" width="63.86" height="54" fill="#fff5f0"/>
<rect x="1711.04" y="261.05" width="63.86" height="54" fill="#fff5f0"/>
<rect x="1773.9" y="261.05" width="63.86" height="54" fill="#fff5f0"/>
<rect x="1082.44" y="314.05" width="63.86" height="54" fill="#fff5f0"/>
<rect x="1145.3" y="314.05" width="63.86" height="54" fill="#fff5f0"/>
<rect x="1208.16" y="314.05" width="63.86" height="54" fill="#fff5f0"/>
<rect x="1271.02" y="314.05" width="63.86" height="54" fill="#fff5f0"/>
<rect x="1333.88" y="314.05" width="63.86" height="54" fill="#ffede5"/>
<rect x="1396.74" y="314.05" width="63.86" height="54" fill="#fff5f0"/>
<rect x="1459.6" y="314.05" width="63.86" height="54" fill="#fff0e9"/>
<rect x="1522.46" y="314.05" width="63.86" height="54" fill="#fff5f0"/>
<rect x="1585.32" y="314.05" width="63.86" height="54" fill="#fff5f0"/>
<rect x="1648.18" y="314.05" width="63.86" height="54" fill="#fff5f0"/>
<rect x="1711.04" y="314.05" width="63.86" height="54" fill="#fff5f0"/>
<rect x="1773.9" y="314.05" width="63.86" height="54" fill="#fff5f0"/>
<rect x="1082.44" y="367.05" width="63.86" height="54" fill="#fff5f0"/>
<rect x="1145.3" y="367.05" width="63.86" height="54" fill="#fff5f0"/>
<rect x="1208.16" y="367.05" width="63.86" height="54" fill="#fff5f0"/>
<rect x="1271.02" y="367.05" width="63.86" height="54" fill="#fff4ef"/>
<rect x="1333.88" y="367.05" width="63.86" height="54" fill="#fff1ea"/>
<rect x="1396.74" y="367.05" width="63.86" height="54" fill="#fff5f0"/>
<rect x="1459.6" y="367.05" width="63.86" height="54" fill="#fca082"/>
<rect x="1522.46" y="367.05" width="63.86" height="54" fill="#fee5d8"/>
<rect x="1585.32" y="367.05" width="63.86" height="54" fill="#fff5f0"/>
<rect x="1648.18" y="367.05" width="63.86" height="54" fill="#fff5f0"/>
<rect x="1711.04" y="367.05" width="63.86" height="54" fill="#fff5f0"/>
<rect x="1773.9" y="367.05" width="63.86" height="54" fill="#fff5f0"/>
<rect x="1082.44" y="420.05" width="63.86" height="54" fill="#fff5f0"/>
<rect x="1145.3" y="420.05" width="63.86" height="54" fill="#fff5f0"/>
<rect x="1208.16" y="420.05" width="63.86" height="54" fill="#fff5f0"/>
<rect x="1271.02" y="420.05" width="63.86" height="54" fill="#fff5f0"/>
<rect x="1333.88" y="420.05" width="63.86" height="54" fill="#fff5f0"/>
<rect x="1396.74" y="420.05" width="63.86" height="54" fill="#fff5f0"/>
<rect x="1459.6" y="420.05" width="63.86" height="54" fill="#fee8de"/>
<rect x="1522.46" y="420.05" width="63.86" height="54" fill="#f0402f"/>
<rect x="1585.32" y="420.05" width="63.86" height="54" fill="#fff4ef"/>
<rect x="1648.18" y="420.05" width="63.86" height="54" fill="#fff5f0"/>
<rect x="1711.04" y="420.05" width="63.86" height="54" fill="#fff5f0"/>
<rect x="1773.9" y="420.05" width="63.86" height="54" fill="#fff5f0"/>
<rect x="1082.44" y="473.05" width="63.86" height="54" fill="#fff5f0"/>
<rect x="1145.3" y="473.05" width="63.86" height="54" fill="#fff5f0"/>
<rect x="1208.16" y="473.05" width="63.86" height="54" fill="#fff5f0"/>
<rect x="1271.02" y="473.05" width="63.86" height="54" fill="#fff5f0"/>
<rect x="1333.88" y="473.05" width="63.86" height="54" fill="#fff5f0"/>
<rect x="1396.74" y="473.05" width="63.86" height="54" fill="#fff5f0"/>
<rect x="1459.6" y="473.05" width="63.86" height="54" fill="#fff5f0"/>
<rect x="1522.46" y="473.05" width="63.86" height="54" fill="#ffebe2"/>
<rect x="1585.32" y="473.05" width="63.86" height="54" fill="#fed8c7"/>
<rect x="1648.18" y="473.05" width="63.86" height="54" fill="#fff0e8"/>
<rect x="1711.04" y="473.05" width="63.86" height="54" fill="#fff2eb"/>
<rect x="1773.9" y="473.05" width="63.86" height="54" fill="#fff5f0"/>
<rect x="1082.44" y="526.05" width="63.86" height="54" fill="#fff5f0"/>
<rect x="1145.3" y="526.05" width="63.86" height="54" fill="#fff5f0"/>
<rect x="1208.16" y="526.05" width="63.86" height="54" fill="#fff5f0"/>
<rect x="1271.02" y="526.05" width="63.86" height="54" fill="#fff5f0"/>
<rect x="1333.88" y="526.05" width="63.86" height="54" fill="#fff5f0"/>
<rect x="1396.74" y="526.05" width="63.86" height="54" fill="#fff5f0"/>
<rect x="1459.6" y="526.05" width="63.86" height="54" fill="#fff5f0"/>
<rect x="1522.46" y="526.05" width="63.86" height="54" fill="#fff5f0"/>
<rect x="1585.32" y="526.05" width="63.86" height="54" fill="#fff4ef"/>
<rect x="1648.18" y="526.05" width="63.86" height="54" fill="#fee7dc"/>
<rect x="1711.04" y="526.05" width="63.86" height="54" fill="#ffeee6"/>
<rect x="1773.9" y="526.05" width="63.86" height="54" fill="#fff5f0"/>
<rect x="1082.44" y="579.05" width="63.86" height="54" fill="#fff5f0"/>
<rect x="1145.3" y="579.05" width="63.86" height="54" fill="#fff5f0"/>
<rect x="1208.16" y="579.05" width="63.86" height="54" fill="#fff5f0"/>
<rect x="1271.02" y="579.05" width="63.86" height="54" fill="#fff5f0"/>
<rect x="1333.88" y="579.05" width="63.86" height="54" fill="#fff5f0"/>
<rect x="1396.74" y="579.05" width="63.86" height="54" fill="#fff5f0"/>
<rect x="1459.6" y="579.05" width="63.86" height="54" fill="#fff5f0"/>
<rect x="1522.46" y="579.05" width="63.86" height="54" fill="#fff5f0"/>
<rect x="1585.32" y="579.05" width="63.86" height="54" fill="#fff5f0"/>
<rect x="1648.18" y="579.05" width="63.86" height="54" fill="#fff5f0"/>
<rect x="1711.04" y="579.05" width="63.86" height="54" fill="#de2b25"/>
<rect x="1773.9" y="579.05" width="63.86" height="54" fill="#fee5d9"/>
<rect x="1082.44" y="632.05" width="63.86" height="54" fill="#fff5f0"/>
<rect x="1145.3" y="632.05" width="63.86" height="54" fill="#fff5f0"/>
<rect x="1208.16" y="632.05" width="63.86" height="54" fill="#fff5f0"/>
<rect x="1271.02" y="632.05" width="63.86" height="54" fill="#fff5f0"/>
<rect x="1333.88" y="632.05" width="63.86" height="54" fill="#fff5f0"/>
<rect x="1396.74" y="632.05" width="63.86" height="54" fill="#fff5f0"/>
<rect x="1459.6" y="632.05" width="63.86" height="54" fill="#fff5f0"/>
<rect x="1522.46" y="632.05" width="63.86" height="54" fill="#fff5f0"/>
<rect x="1585.32" y="632.05" width="63.86" height="54" fill="#fff5f0"/>
<rect x="1648.18" y="632.05" width="63.86" height="54" fill="#fff5f0"/>
<rect x="1711.04" y="632.05" width="63.86" height="54" fill="#fff2eb"/>
<rect x="1773.9" y="632.05" width="63.86" height="54" fill="#fed9c9"/>
</g>
<g fill="#fff">
<rect x="1144.6" y="46.55" width="2.4" height="642"/>
<rect x="1207.46" y="46.55" width="2.4" height="642"/>
<rect x="1270.32" y="46.55" width="2.4" height="642"/>
<rect x="1333.18" y="46.55" width="2.4" height="642"/>
<rect x="1396.04" y="46.55" width="2.4" height="642"/>
<rect x="1458.9" y="46.55" width="2.4" height="642"/>
<rect x="1521.76" y="46.55" width="2.4" height="642"/>
<rect x="1584.62" y="46.55" width="2.4" height="642"/>
<rect x="1647.48" y="46.55" width="2.4" height="642"/>
<rect x="1710.34" y="46.55" width="2.4" height="642"/>
<rect x="1773.2" y="46.55" width="2.4" height="642"/>
<rect x="1079.94" y="101.25" width="760.32" height="2.6"/>
<rect x="1079.94" y="154.25" width="760.32" height="2.6"/>
<rect x="1079.94" y="207.25" width="760.32" height="2.6"/>
<rect x="1079.94" y="260.25" width="760.32" height="2.6"/>
<rect x="1079.94" y="313.25" width="760.32" height="2.6"/>
<rect x="1079.94" y="366.25" width="760.32" height="2.6"/>
<rect x="1079.94" y="419.25" width="760.32" height="2.6"/>
<rect x="1079.94" y="472.25" width="760.32" height="2.6"/>
<rect x="1079.94" y="525.25" width="760.32" height="2.6"/>
<rect x="1079.94" y="578.25" width="760.32" height="2.6"/>
<rect x="1079.94" y="631.25" width="760.32" height="2.6"/>
</g></g>
<g class="ann">
<text transform="translate(1114.67 80.85) scale(0.88 1)" text-anchor="middle" fill="#262626" font-size="14.2">56</text>
<text transform="translate(1177.53 80.85) scale(0.88 1)" text-anchor="middle" fill="#262626" font-size="14.2">4</text>
<text transform="translate(1240.39 80.85) scale(0.88 1)" text-anchor="middle" fill="#262626" font-size="14.2">0</text>
<text transform="translate(1303.25 80.85) scale(0.88 1)" text-anchor="middle" fill="#262626" font-size="14.2">0</text>
<text transform="translate(1366.11 80.85) scale(0.88 1)" text-anchor="middle" fill="#262626" font-size="14.2">0</text>
<text transform="translate(1428.97 80.85) scale(0.88 1)" text-anchor="middle" fill="#262626" font-size="14.2">0</text>
<text transform="translate(1491.83 80.85) scale(0.88 1)" text-anchor="middle" fill="#262626" font-size="14.2">0</text>
<text transform="translate(1554.69 80.85) scale(0.88 1)" text-anchor="middle" fill="#262626" font-size="14.2">0</text>
<text transform="translate(1617.55 80.85) scale(0.88 1)" text-anchor="middle" fill="#262626" font-size="14.2">0</text>
<text transform="translate(1680.41 80.85) scale(0.88 1)" text-anchor="middle" fill="#262626" font-size="14.2">0</text>
<text transform="translate(1743.27 80.85) scale(0.88 1)" text-anchor="middle" fill="#262626" font-size="14.2">0</text>
<text transform="translate(1806.13 80.85) scale(0.88 1)" text-anchor="middle" fill="#262626" font-size="14.2">0</text>
<text transform="translate(1114.67 133.85) scale(0.88 1)" text-anchor="middle" fill="#262626" font-size="14.2">11</text>
<text transform="translate(1177.53 133.85) scale(0.88 1)" text-anchor="middle" fill="#262626" font-size="14.2">3</text>
<text transform="translate(1240.39 133.85) scale(0.88 1)" text-anchor="middle" fill="#262626" font-size="14.2">0</text>
<text transform="translate(1303.25 133.85) scale(0.88 1)" text-anchor="middle" fill="#262626" font-size="14.2">2</text>
<text transform="translate(1366.11 133.85) scale(0.88 1)" text-anchor="middle" fill="#262626" font-size="14.2">0</text>
<text transform="translate(1428.97 133.85) scale(0.88 1)" text-anchor="middle" fill="#262626" font-size="14.2">0</text>
<text transform="translate(1491.83 133.85) scale(0.88 1)" text-anchor="middle" fill="#262626" font-size="14.2">0</text>
<text transform="translate(1554.69 133.85) scale(0.88 1)" text-anchor="middle" fill="#262626" font-size="14.2">0</text>
<text transform="translate(1617.55 133.85) scale(0.88 1)" text-anchor="middle" fill="#262626" font-size="14.2">0</text>
<text transform="translate(1680.41 133.85) scale(0.88 1)" text-anchor="middle" fill="#262626" font-size="14.2">0</text>
<text transform="translate(1743.27 133.85) scale(0.88 1)" text-anchor="middle" fill="#262626" font-size="14.2">0</text>
<text transform="translate(1806.13 133.85) scale(0.88 1)" text-anchor="middle" fill="#262626" font-size="14.2">0</text>
<text transform="translate(1114.67 186.85) scale(0.88 1)" text-anchor="middle" fill="#262626" font-size="14.2">6</text>
<text transform="translate(1177.53 186.85) scale(0.88 1)" text-anchor="middle" fill="#262626" font-size="14.2">4</text>
<text transform="translate(1240.39 186.85) scale(0.88 1)" text-anchor="middle" fill="#262626" font-size="14.2">11</text>
<text transform="translate(1303.25 186.85) scale(0.88 1)" text-anchor="middle" fill="#262626" font-size="14.2">5</text>
<text transform="translate(1366.11 186.85) scale(0.88 1)" text-anchor="middle" fill="#262626" font-size="14.2">0</text>
<text transform="translate(1428.97 186.85) scale(0.88 1)" text-anchor="middle" fill="#262626" font-size="14.2">0</text>
<text transform="translate(1491.83 186.85) scale(0.88 1)" text-anchor="middle" fill="#262626" font-size="14.2">0</text>
<text transform="translate(1554.69 186.85) scale(0.88 1)" text-anchor="middle" fill="#262626" font-size="14.2">0</text>
<text transform="translate(1617.55 186.85) scale(0.88 1)" text-anchor="middle" fill="#262626" font-size="14.2">0</text>
<text transform="translate(1680.41 186.85) scale(0.88 1)" text-anchor="middle" fill="#262626" font-size="14.2">0</text>
<text transform="translate(1743.27 186.85) scale(0.88 1)" text-anchor="middle" fill="#262626" font-size="14.2">0</text>
<text transform="translate(1806.13 186.85) scale(0.88 1)" text-anchor="middle" fill="#262626" font-size="14.2">0</text>
<text transform="translate(1114.67 239.85) scale(0.88 1)" text-anchor="middle" fill="#262626" font-size="14.2">0</text>
<text transform="translate(1177.53 239.85) scale(0.88 1)" text-anchor="middle" fill="#262626" font-size="14.2">0</text>
<text transform="translate(1240.39 239.85) scale(0.88 1)" text-anchor="middle" fill="#262626" font-size="14.2">5</text>
<text transform="translate(1303.25 239.85) scale(0.88 1)" text-anchor="middle" fill="#262626" font-size="14.2">48</text>
<text transform="translate(1366.11 239.85) scale(0.88 1)" text-anchor="middle" fill="#262626" font-size="14.2">0</text>
<text transform="translate(1428.97 239.85) scale(0.88 1)" text-anchor="middle" fill="#262626" font-size="14.2">0</text>
<text transform="translate(1491.83 239.85) scale(0.88 1)" text-anchor="middle" fill="#262626" font-size="14.2">3</text>
<text transform="translate(1554.69 239.85) scale(0.88 1)" text-anchor="middle" fill="#262626" font-size="14.2">0</text>
<text transform="translate(1617.55 239.85) scale(0.88 1)" text-anchor="middle" fill="#262626" font-size="14.2">0</text>
<text transform="translate(1680.41 239.85) scale(0.88 1)" text-anchor="middle" fill="#262626" font-size="14.2">0</text>
<text transform="translate(1743.27 239.85) scale(0.88 1)" text-anchor="middle" fill="#262626" font-size="14.2">0</text>
<text transform="translate(1806.13 239.85) scale(0.88 1)" text-anchor="middle" fill="#262626" font-size="14.2">0</text>
<text transform="translate(1114.67 292.85) scale(0.88 1)" text-anchor="middle" fill="#262626" font-size="14.2">0</text>
<text transform="translate(1177.53 292.85) scale(0.88 1)" text-anchor="middle" fill="#262626" font-size="14.2">0</text>
<text transform="translate(1240.39 292.85) scale(0.88 1)" text-anchor="middle" fill="#262626" font-size="14.2">0</text>
<text transform="translate(1303.25 292.85) scale(0.88 1)" text-anchor="middle" fill="#262626" font-size="14.2">4</text>
<text transform="translate(1366.11 292.85) scale(0.88 1)" text-anchor="middle" fill="#262626" font-size="14.2">28</text>
<text transform="translate(1428.97 292.85) scale(0.88 1)" text-anchor="middle" fill="#262626" font-size="14.2">0</text>
<text transform="translate(1491.83 292.85) scale(0.88 1)" text-anchor="middle" fill="#262626" font-size="14.2">4</text>
<text transform="translate(1554.69 292.85) scale(0.88 1)" text-anchor="middle" fill="#262626" font-size="14.2">0</text>
<text transform="translate(1617.55 292.85) scale(0.88 1)" text-anchor="middle" fill="#262626" font-size="14.2">0</text>
<text transform="translate(1680.41 292.85) scale(0.88 1)" text-anchor="middle" fill="#262626" font-size="14.2">0</text>
<text transform="translate(1743.27 292.85) scale(0.88 1)" text-anchor="middle" fill="#262626" font-size="14.2">0</text>
<text transform="translate(1806.13 292.85) scale(0.88 1)" text-anchor="middle" fill="#262626" font-size="14.2">0</text>
<text transform="translate(1114.67 345.85) scale(0.88 1)" text-anchor="middle" fill="#262626" font-size="14.2">0</text>
<text transform="translate(1177.53 345.85) scale(0.88 1)" text-anchor="middle" fill="#262626" font-size="14.2">0</text>
<text transform="translate(1240.39 345.85) scale(0.88 1)" text-anchor="middle" fill="#262626" font-size="14.2">0</text>
<text transform="translate(1303.25 345.85) scale(0.88 1)" text-anchor="middle" fill="#262626" font-size="14.2">0</text>
<text transform="translate(1366.11 345.85) scale(0.88 1)" text-anchor="middle" fill="#262626" font-size="14.2">10</text>
<text transform="translate(1428.97 345.85) scale(0.88 1)" text-anchor="middle" fill="#262626" font-size="14.2">0</text>
<text transform="translate(1491.83 345.85) scale(0.88 1)" text-anchor="middle" fill="#262626" font-size="14.2">6</text>
<text transform="translate(1554.69 345.85) scale(0.88 1)" text-anchor="middle" fill="#262626" font-size="14.2">0</text>
<text transform="translate(1617.55 345.85) scale(0.88 1)" text-anchor="middle" fill="#262626" font-size="14.2">0</text>
<text transform="translate(1680.41 345.85) scale(0.88 1)" text-anchor="middle" fill="#262626" font-size="14.2">0</text>
<text transform="translate(1743.27 345.85) scale(0.88 1)" text-anchor="middle" fill="#262626" font-size="14.2">0</text>
<text transform="translate(1806.13 345.85) scale(0.88 1)" text-anchor="middle" fill="#262626" font-size="14.2">0</text>
<text transform="translate(1114.67 398.85) scale(0.88 1)" text-anchor="middle" fill="#262626" font-size="14.2">0</text>
<text transform="translate(1177.53 398.85) scale(0.88 1)" text-anchor="middle" fill="#262626" font-size="14.2">0</text>
<text transform="translate(1240.39 398.85) scale(0.88 1)" text-anchor="middle" fill="#262626" font-size="14.2">0</text>
<text transform="translate(1303.25 398.85) scale(0.88 1)" text-anchor="middle" fill="#262626" font-size="14.2">1</text>
<text transform="translate(1366.11 398.85) scale(0.88 1)" text-anchor="middle" fill="#262626" font-size="14.2">5</text>
<text transform="translate(1428.97 398.85) scale(0.88 1)" text-anchor="middle" fill="#262626" font-size="14.2">0</text>
<text transform="translate(1491.83 398.85) scale(0.88 1)" text-anchor="middle" fill="#262626" font-size="14.2">67</text>
<text transform="translate(1554.69 398.85) scale(0.88 1)" text-anchor="middle" fill="#262626" font-size="14.2">20</text>
<text transform="translate(1617.55 398.85) scale(0.88 1)" text-anchor="middle" fill="#262626" font-size="14.2">0</text>
<text transform="translate(1680.41 398.85) scale(0.88 1)" text-anchor="middle" fill="#262626" font-size="14.2">0</text>
<text transform="translate(1743.27 398.85) scale(0.88 1)" text-anchor="middle" fill="#262626" font-size="14.2">0</text>
<text transform="translate(1806.13 398.85) scale(0.88 1)" text-anchor="middle" fill="#262626" font-size="14.2">0</text>
<text transform="translate(1114.67 451.85) scale(0.88 1)" text-anchor="middle" fill="#262626" font-size="14.2">0</text>
<text transform="translate(1177.53 451.85) scale(0.88 1)" text-anchor="middle" fill="#262626" font-size="14.2">0</text>
<text transform="translate(1240.39 451.85) scale(0.88 1)" text-anchor="middle" fill="#262626" font-size="14.2">0</text>
<text transform="translate(1303.25 451.85) scale(0.88 1)" text-anchor="middle" fill="#262626" font-size="14.2">0</text>
<text transform="translate(1366.11 451.85) scale(0.88 1)" text-anchor="middle" fill="#262626" font-size="14.2">0</text>
<text transform="translate(1428.97 451.85) scale(0.88 1)" text-anchor="middle" fill="#262626" font-size="14.2">0</text>
<text transform="translate(1491.83 451.85) scale(0.88 1)" text-anchor="middle" fill="#262626" font-size="14.2">15</text>
<text transform="translate(1554.69 451.85) scale(0.88 1)" text-anchor="middle" fill="#ffffff" font-size="14.2">122</text>
<text transform="translate(1617.55 451.85) scale(0.88 1)" text-anchor="middle" fill="#262626" font-size="14.2">1</text>
<text transform="translate(1680.41 451.85) scale(0.88 1)" text-anchor="middle" fill="#262626" font-size="14.2">0</text>
<text transform="translate(1743.27 451.85) scale(0.88 1)" text-anchor="middle" fill="#262626" font-size="14.2">0</text>
<text transform="translate(1806.13 451.85) scale(0.88 1)" text-anchor="middle" fill="#262626" font-size="14.2">0</text>
<text transform="translate(1114.67 504.85) scale(0.88 1)" text-anchor="middle" fill="#262626" font-size="14.2">0</text>
<text transform="translate(1177.53 504.85) scale(0.88 1)" text-anchor="middle" fill="#262626" font-size="14.2">0</text>
<text transform="translate(1240.39 504.85) scale(0.88 1)" text-anchor="middle" fill="#262626" font-size="14.2">0</text>
<text transform="translate(1303.25 504.85) scale(0.88 1)" text-anchor="middle" fill="#262626" font-size="14.2">0</text>
<text transform="translate(1366.11 504.85) scale(0.88 1)" text-anchor="middle" fill="#262626" font-size="14.2">0</text>
<text transform="translate(1428.97 504.85) scale(0.88 1)" text-anchor="middle" fill="#262626" font-size="14.2">0</text>
<text transform="translate(1491.83 504.85) scale(0.88 1)" text-anchor="middle" fill="#262626" font-size="14.2">0</text>
<text transform="translate(1554.69 504.85) scale(0.88 1)" text-anchor="middle" fill="#262626" font-size="14.2">12</text>
<text transform="translate(1617.55 504.85) scale(0.88 1)" text-anchor="middle" fill="#262626" font-size="14.2">31</text>
<text transform="translate(1680.41 504.85) scale(0.88 1)" text-anchor="middle" fill="#262626" font-size="14.2">7</text>
<text transform="translate(1743.27 504.85) scale(0.88 1)" text-anchor="middle" fill="#262626" font-size="14.2">4</text>
<text transform="translate(1806.13 504.85) scale(0.88 1)" text-anchor="middle" fill="#262626" font-size="14.2">0</text>
<text transform="translate(1114.67 557.85) scale(0.88 1)" text-anchor="middle" fill="#262626" font-size="14.2">0</text>
<text transform="translate(1177.53 557.85) scale(0.88 1)" text-anchor="middle" fill="#262626" font-size="14.2">0</text>
<text transform="translate(1240.39 557.85) scale(0.88 1)" text-anchor="middle" fill="#262626" font-size="14.2">0</text>
<text transform="translate(1303.25 557.85) scale(0.88 1)" text-anchor="middle" fill="#262626" font-size="14.2">0</text>
<text transform="translate(1366.11 557.85) scale(0.88 1)" text-anchor="middle" fill="#262626" font-size="14.2">0</text>
<text transform="translate(1428.97 557.85) scale(0.88 1)" text-anchor="middle" fill="#262626" font-size="14.2">0</text>
<text transform="translate(1491.83 557.85) scale(0.88 1)" text-anchor="middle" fill="#262626" font-size="14.2">0</text>
<text transform="translate(1554.69 557.85) scale(0.88 1)" text-anchor="middle" fill="#262626" font-size="14.2">0</text>
<text transform="translate(1617.55 557.85) scale(0.88 1)" text-anchor="middle" fill="#262626" font-size="14.2">1</text>
<text transform="translate(1680.41 557.85) scale(0.88 1)" text-anchor="middle" fill="#262626" font-size="14.2">17</text>
<text transform="translate(1743.27 557.85) scale(0.88 1)" text-anchor="middle" fill="#262626" font-size="14.2">9</text>
<text transform="translate(1806.13 557.85) scale(0.88 1)" text-anchor="middle" fill="#262626" font-size="14.2">0</text>
<text transform="translate(1114.67 610.85) scale(0.88 1)" text-anchor="middle" fill="#262626" font-size="14.2">0</text>
<text transform="translate(1177.53 610.85) scale(0.88 1)" text-anchor="middle" fill="#262626" font-size="14.2">0</text>
<text transform="translate(1240.39 610.85) scale(0.88 1)" text-anchor="middle" fill="#262626" font-size="14.2">0</text>
<text transform="translate(1303.25 610.85) scale(0.88 1)" text-anchor="middle" fill="#262626" font-size="14.2">0</text>
<text transform="translate(1366.11 610.85) scale(0.88 1)" text-anchor="middle" fill="#262626" font-size="14.2">0</text>
<text transform="translate(1428.97 610.85) scale(0.88 1)" text-anchor="middle" fill="#262626" font-size="14.2">0</text>
<text transform="translate(1491.83 610.85) scale(0.88 1)" text-anchor="middle" fill="#262626" font-size="14.2">0</text>
<text transform="translate(1554.69 610.85) scale(0.88 1)" text-anchor="middle" fill="#262626" font-size="14.2">0</text>
<text transform="translate(1617.55 610.85) scale(0.88 1)" text-anchor="middle" fill="#262626" font-size="14.2">0</text>
<text transform="translate(1680.41 610.85) scale(0.88 1)" text-anchor="middle" fill="#262626" font-size="14.2">0</text>
<text transform="translate(1743.27 610.85) scale(0.88 1)" text-anchor="middle" fill="#ffffff" font-size="14.2">136</text>
<text transform="translate(1806.13 610.85) scale(0.88 1)" text-anchor="middle" fill="#262626" font-size="14.2">19</text>
<text transform="translate(1114.67 663.85) scale(0.88 1)" text-anchor="middle" fill="#262626" font-size="14.2">0</text>
<text transform="translate(1177.53 663.85) scale(0.88 1)" text-anchor="middle" fill="#262626" font-size="14.2">0</text>
<text transform="translate(1240.39 663.85) scale(0.88 1)" text-anchor="middle" fill="#262626" font-size="14.2">0</text>
<text transform="translate(1303.25 663.85) scale(0.88 1)" text-anchor="middle" fill="#262626" font-size="14.2">0</text>
<text transform="translate(1366.11 663.85) scale(0.88 1)" text-anchor="middle" fill="#262626" font-size="14.2">0</text>
<text transform="translate(1428.97 663.85) scale(0.88 1)" text-anchor="middle" fill="#262626" font-size="14.2">0</text>
<text transform="translate(1491.83 663.85) scale(0.88 1)" text-anchor="middle" fill="#262626" font-size="14.2">0</text>
<text transform="translate(1554.69 663.85) scale(0.88 1)" text-anchor="middle" fill="#262626" font-size="14.2">0</text>
<text transform="translate(1617.55 663.85) scale(0.88 1)" text-anchor="middle" fill="#262626" font-size="14.2">0</text>
<text transform="translate(1680.41 663.85) scale(0.88 1)" text-anchor="middle" fill="#262626" font-size="14.2">0</text>
<text transform="translate(1743.27 663.85) scale(0.88 1)" text-anchor="middle" fill="#262626" font-size="14.2">4</text>
<text transform="translate(1806.13 663.85) scale(0.88 1)" text-anchor="middle" fill="#262626" font-size="14.2">30</text>
</g>
<g class="ticks" fill="#1a1a1a">
<rect x="1114.52" y="685.85" width="1.1" height="5.4"/>
<text transform="translate(1115.57 704.55) scale(0.88 1)" text-anchor="middle" fill="#1a1a1a" font-size="14.2">0</text>
<rect x="1177.38" y="685.85" width="1.1" height="5.4"/>
<text transform="translate(1178.43 704.55) scale(0.88 1)" text-anchor="middle" fill="#1a1a1a" font-size="14.2">1</text>
<rect x="1240.24" y="685.85" width="1.1" height="5.4"/>
<text transform="translate(1241.29 704.55) scale(0.88 1)" text-anchor="middle" fill="#1a1a1a" font-size="14.2">2</text>
<rect x="1303.1" y="685.85" width="1.1" height="5.4"/>
<text transform="translate(1304.15 704.55) scale(0.88 1)" text-anchor="middle" fill="#1a1a1a" font-size="14.2">3</text>
<rect x="1365.96" y="685.85" width="1.1" height="5.4"/>
<text transform="translate(1367.01 704.55) scale(0.88 1)" text-anchor="middle" fill="#1a1a1a" font-size="14.2">4</text>
<rect x="1428.82" y="685.85" width="1.1" height="5.4"/>
<text transform="translate(1429.87 704.55) scale(0.88 1)" text-anchor="middle" fill="#1a1a1a" font-size="14.2">5</text>
<rect x="1491.68" y="685.85" width="1.1" height="5.4"/>
<text transform="translate(1492.73 704.55) scale(0.88 1)" text-anchor="middle" fill="#1a1a1a" font-size="14.2">6</text>
<rect x="1554.54" y="685.85" width="1.1" height="5.4"/>
<text transform="translate(1555.59 704.55) scale(0.88 1)" text-anchor="middle" fill="#1a1a1a" font-size="14.2">7</text>
<rect x="1617.4" y="685.85" width="1.1" height="5.4"/>
<text transform="translate(1618.45 704.55) scale(0.88 1)" text-anchor="middle" fill="#1a1a1a" font-size="14.2">8</text>
<rect x="1680.26" y="685.85" width="1.1" height="5.4"/>
<text transform="translate(1681.31 704.55) scale(0.88 1)" text-anchor="middle" fill="#1a1a1a" font-size="14.2">9</text>
<rect x="1743.12" y="685.85" width="1.1" height="5.4"/>
<text transform="translate(1742.77 704.55) scale(0.88 1)" text-anchor="middle" fill="#1a1a1a" font-size="14.2">10</text>
<rect x="1805.98" y="685.85" width="1.1" height="5.4"/>
<text transform="translate(1805.63 704.55) scale(0.88 1)" text-anchor="middle" fill="#1a1a1a" font-size="14.2">11</text>
<rect x="1078.6" y="76.4" width="5.4" height="1.1"/>
<text transform="translate(1070.2 77.85) rotate(-90) scale(0.88 1)" text-anchor="middle" fill="#1a1a1a" font-size="14.2">0</text>
<rect x="1078.6" y="129.4" width="5.4" height="1.1"/>
<text transform="translate(1070.2 130.85) rotate(-90) scale(0.88 1)" text-anchor="middle" fill="#1a1a1a" font-size="14.2">1</text>
<rect x="1078.6" y="182.4" width="5.4" height="1.1"/>
<text transform="translate(1070.2 183.85) rotate(-90) scale(0.88 1)" text-anchor="middle" fill="#1a1a1a" font-size="14.2">2</text>
<rect x="1078.6" y="235.4" width="5.4" height="1.1"/>
<text transform="translate(1070.2 236.85) rotate(-90) scale(0.88 1)" text-anchor="middle" fill="#1a1a1a" font-size="14.2">3</text>
<rect x="1078.6" y="288.4" width="5.4" height="1.1"/>
<text transform="translate(1070.2 289.85) rotate(-90) scale(0.88 1)" text-anchor="middle" fill="#1a1a1a" font-size="14.2">4</text>
<rect x="1078.6" y="341.4" width="5.4" height="1.1"/>
<text transform="translate(1070.2 342.85) rotate(-90) scale(0.88 1)" text-anchor="middle" fill="#1a1a1a" font-size="14.2">5</text>
<rect x="1078.6" y="394.4" width="5.4" height="1.1"/>
<text transform="translate(1070.2 395.85) rotate(-90) scale(0.88 1)" text-anchor="middle" fill="#1a1a1a" font-size="14.2">6</text>
<rect x="1078.6" y="447.4" width="5.4" height="1.1"/>
<text transform="translate(1070.2 448.85) rotate(-90) scale(0.88 1)" text-anchor="middle" fill="#1a1a1a" font-size="14.2">7</text>
<rect x="1078.6" y="500.4" width="5.4" height="1.1"/>
<text transform="translate(1070.2 501.85) rotate(-90) scale(0.88 1)" text-anchor="middle" fill="#1a1a1a" font-size="14.2">8</text>
<rect x="1078.6" y="553.4" width="5.4" height="1.1"/>
<text transform="translate(1070.2 554.85) rotate(-90) scale(0.88 1)" text-anchor="middle" fill="#1a1a1a" font-size="14.2">9</text>
<rect x="1078.6" y="606.4" width="5.4" height="1.1"/>
<text transform="translate(1070.2 610.25) rotate(-90) scale(0.88 1)" text-anchor="middle" fill="#1a1a1a" font-size="14.2">10</text>
<rect x="1078.6" y="659.4" width="5.4" height="1.1"/>
<text transform="translate(1070.2 663.25) rotate(-90) scale(0.88 1)" text-anchor="middle" fill="#1a1a1a" font-size="14.2">11</text>
</g>
<rect x="1885.1" y="49.8" width="31.2" height="635.8" fill="url(#g1)"/>
<g class="cbt" fill="#1a1a1a">
<rect x="1916.9" y="685.35" width="5.2" height="1.1"/>
<text transform="translate(1926.7 690.6) scale(0.88 1)" text-anchor="start" fill="#1a1a1a" font-size="14.2">0</text>
<rect x="1916.9" y="605.88" width="5.2" height="1.1"/>
<text transform="translate(1926.7 611.12) scale(0.88 1)" text-anchor="start" fill="#1a1a1a" font-size="14.2">25</text>
<rect x="1916.9" y="526.4" width="5.2" height="1.1"/>
<text transform="translate(1926.7 531.65) scale(0.88 1)" text-anchor="start" fill="#1a1a1a" font-size="14.2">50</text>
<rect x="1916.9" y="446.93" width="5.2" height="1.1"/>
<text transform="translate(1926.7 452.18) scale(0.88 1)" text-anchor="start" fill="#1a1a1a" font-size="14.2">75</text>
<rect x="1916.9" y="367.45" width="5.2" height="1.1"/>
<text transform="translate(1925.5 372.7) scale(0.88 1)" text-anchor="start" fill="#1a1a1a" font-size="14.2">100</text>
<rect x="1916.9" y="287.97" width="5.2" height="1.1"/>
<text transform="translate(1925.5 293.22) scale(0.88 1)" text-anchor="start" fill="#1a1a1a" font-size="14.2">125</text>
<rect x="1916.9" y="208.5" width="5.2" height="1.1"/>
<text transform="translate(1925.5 213.75) scale(0.88 1)" text-anchor="start" fill="#1a1a1a" font-size="14.2">150</text>
<rect x="1916.9" y="129.02" width="5.2" height="1.1"/>
<text transform="translate(1925.5 134.27) scale(0.88 1)" text-anchor="start" fill="#1a1a1a" font-size="14.2">175</text>
<rect x="1916.9" y="49.55" width="5.2" height="1.1"/>
<text transform="translate(1926.7 54.8) scale(0.88 1)" text-anchor="start" fill="#1a1a1a" font-size="14.2">200</text>
</g>
</svg>
<div class="lbl" id="t1">Primary validation</div>
<div class="lbl" id="t2">Accuracy test</div>
<div class="lbl" id="x1">Predicted SMI</div>
<div class="lbl" id="x2">Predicted SMI</div>
<div class="lbl" id="y1">Ground truth SMI</div>
<div class="lbl" id="y2">Ground truth SMI</div>
</body></html>
